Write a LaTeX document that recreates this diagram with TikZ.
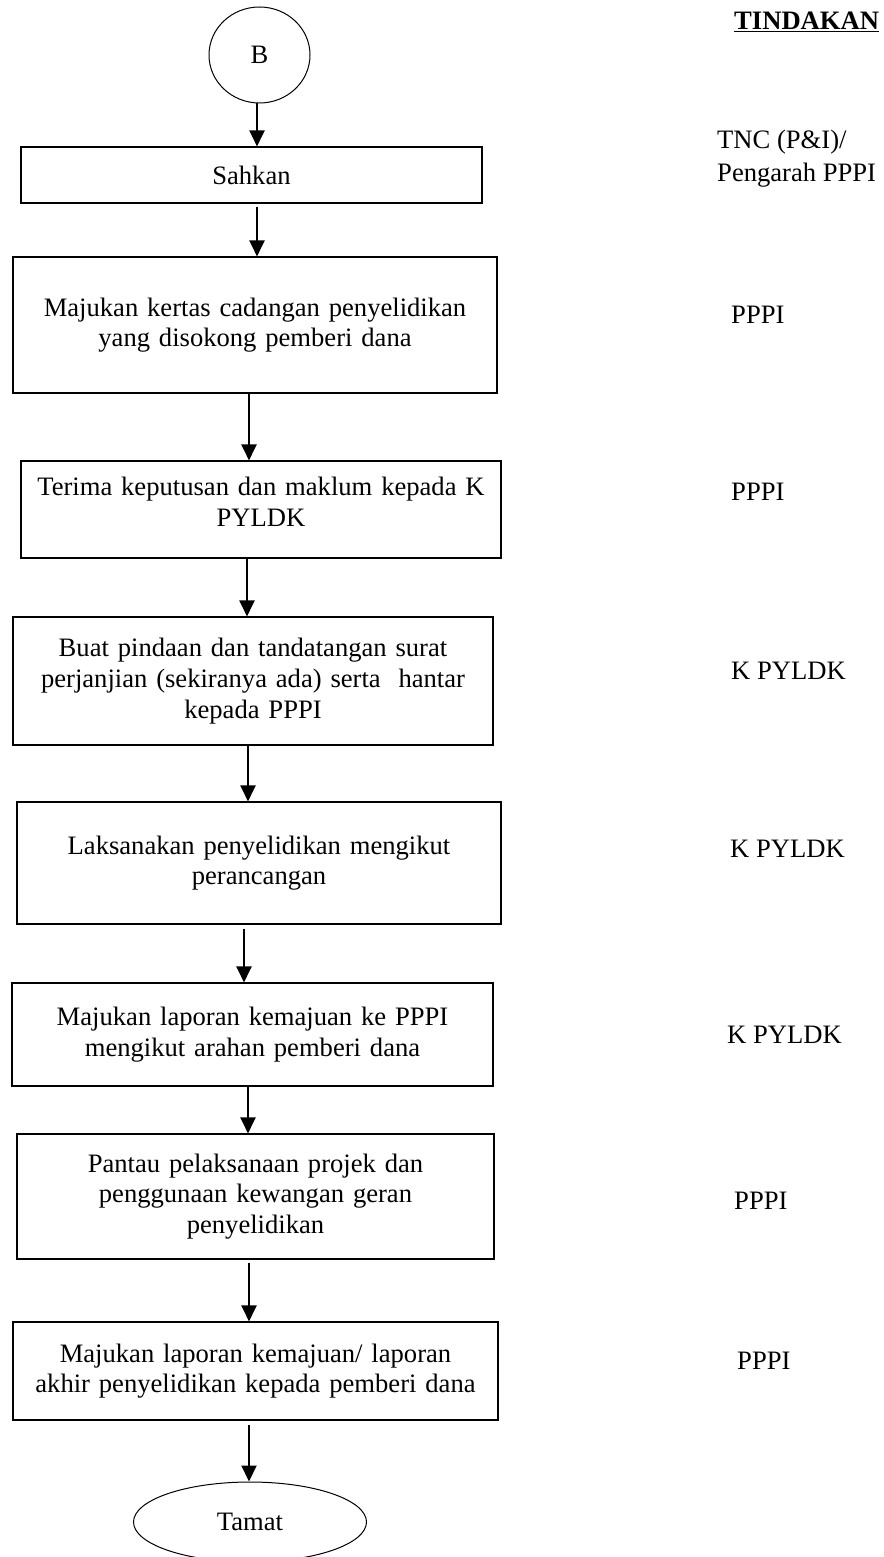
\documentclass[tikz,border=0pt]{standalone}
\usepackage{fontspec}
\setmainfont{Liberation Serif}
\usetikzlibrary{arrows.meta,shapes.geometric}

\tikzset{
  stepbox/.style={draw, line width=1.1pt, fill=white, inner sep=4pt, align=center},
  endbox/.style={draw, ellipse, line width=1pt, inner sep=0pt},
  flow/.style={line width=2pt, -{Triangle[width=15pt,length=16pt]}},
  who/.style={anchor=base west, inner sep=0pt}
}

\begin{document}
\begin{tikzpicture}[x=1pt,y=-1pt,font=\fontsize{26.6pt}{30.6pt}\selectfont]
\useasboundingbox (0,0) rectangle (883,1557);
% flow chart
\node[endbox, minimum width=101pt, minimum height=96pt] (b) at (259.5,55) {B};
\node[stepbox, minimum width=461pt, minimum height=56pt, text width=451pt] (sahkan) at (251.5,175) {Sahkan};
\node[stepbox, minimum width=484pt, minimum height=136pt, text width=474pt] (kertas) at (255,325)
  {Majukan kertas cadangan penyelidikan\\yang disokong pemberi dana};
\node[stepbox, minimum width=480pt, minimum height=97pt, text width=470pt] (terima) at (261,509.5)
  {Terima keputusan dan maklum kepada K\\PYLDK\\[-14.6pt]\mbox{}};
\node[stepbox, minimum width=480pt, minimum height=128pt, text width=470pt] (buat) at (253,681)
  {Buat pindaan dan tandatangan surat\\perjanjian (sekiranya ada) serta~ hantar\\kepada PPPI};
\node[stepbox, minimum width=484pt, minimum height=122pt, text width=474pt] (laksana) at (259,863)
  {Laksanakan penyelidikan mengikut\\perancangan};
\node[stepbox, minimum width=481pt, minimum height=103pt, text width=471pt] (laporan) at (252.5,1034.5)
  {Majukan laporan kemajuan ke PPPI\\mengikut arahan pemberi dana};
\node[stepbox, minimum width=477pt, minimum height=125pt, text width=467pt] (pantau) at (255.5,1196.5)
  {Pantau pelaksanaan projek dan\\penggunaan kewangan geran\\penyelidikan};
\node[stepbox, minimum width=485pt, minimum height=98pt, text width=475pt] (akhir) at (255.5,1371)
  {Majukan laporan kemajuan/ laporan\\akhir penyelidikan kepada pemberi dana};
\node[endbox, minimum width=233pt, minimum height=80pt] (tamat) at (250,1522) {Tamat};

\draw[flow] (b.south -| 257,0) -- (sahkan.north -| 257,0);
\draw[flow, shorten <=3pt] (sahkan.south -| 257,0) -- (kertas.north -| 257,0);
\draw[flow] (kertas.south -| 249,0) -- (terima.north -| 249,0);
\draw[flow] (terima.south -| 247,0) -- (buat.north -| 247,0);
\draw[flow] (buat.south -| 248,0) -- (laksana.north -| 248,0);
\draw[flow, shorten <=4pt] (laksana.south -| 244,0) -- (laporan.north -| 244,0);
\draw[flow] (laporan.south -| 248,0) -- (pantau.north -| 248,0);
\draw[flow, shorten <=3pt] (pantau.south -| 249,0) -- (akhir.north -| 249,0);
\draw[flow, shorten <=4pt] (akhir.south -| 249,0) -- (tamat.north -| 249,0);

% tindakan column
\node[who] (tindakan) at (734,30) {\textbf{\underline{TINDAKAN}}};
\node[who] (tnc) at (717,149) {TNC (P\&I)/};
\node[who] (pengarah) at (717,182) {Pengarah PPPI};
\node[who] (w2) at (731,323) {PPPI};
\node[who] (w3) at (731,500) {PPPI};
\node[who] (w4) at (731,679) {K PYLDK};
\node[who] (w5) at (730,857) {K PYLDK};
\node[who] (w6) at (727,1043) {K PYLDK};
\node[who] (w7) at (734,1209) {PPPI};
\node[who] (w8) at (737,1369) {PPPI};
\end{tikzpicture}
\end{document}
